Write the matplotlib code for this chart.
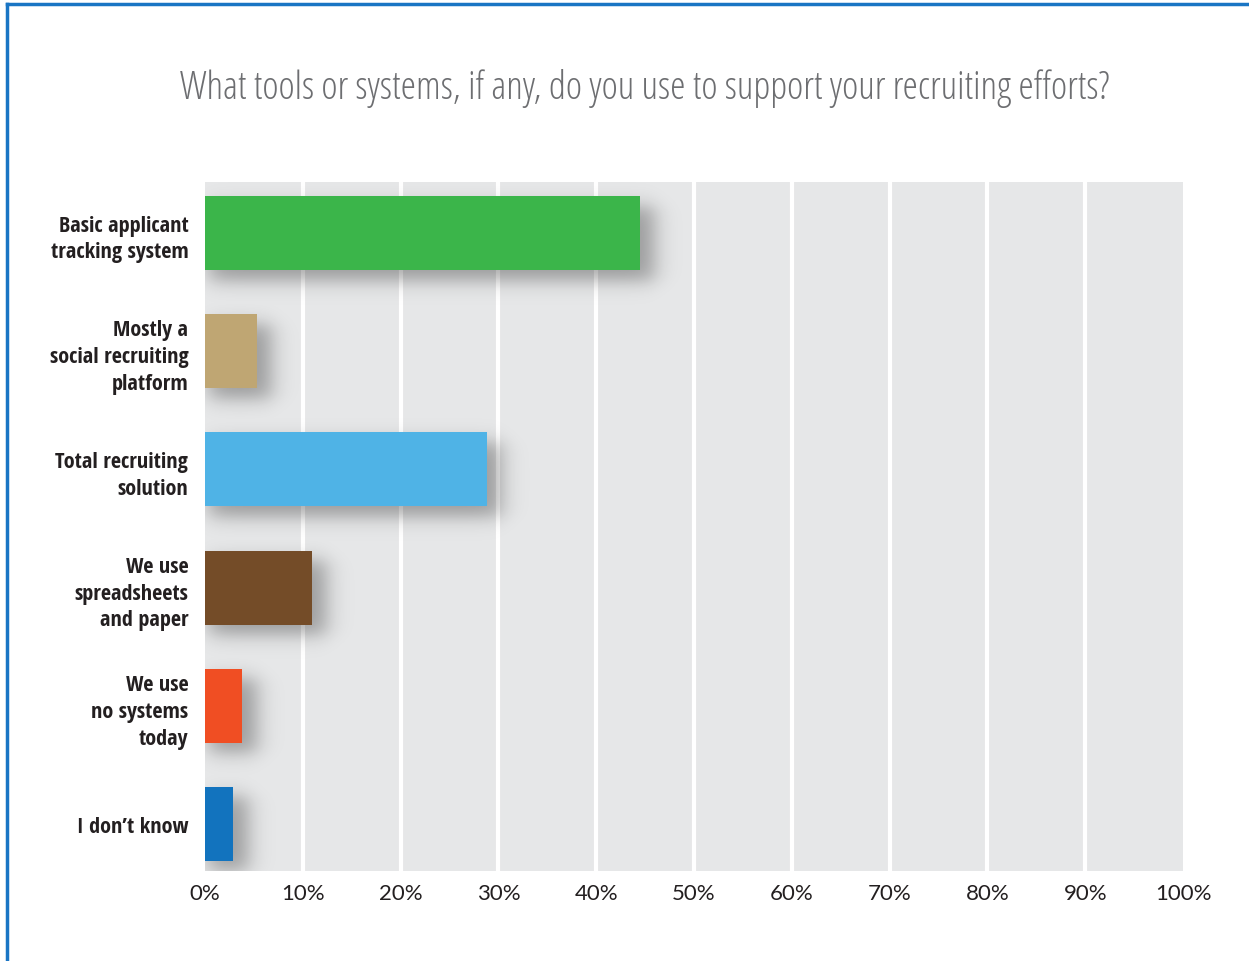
import numpy as np
import matplotlib.pyplot as plt
from matplotlib.lines import Line2D

labels = ["Basic applicant\ntracking system", "Mostly a\nsocial recruiting\nplatform",
          "Total recruiting\nsolution", "We use\nspreadsheets\nand paper",
          "We use\nno systems\ntoday", "I don\u2019t know"]
values = [44.5, 5.3, 28.8, 10.9, 3.8, 2.9]
colors = ["#3bb54a", "#bfa673", "#4fb3e6", "#744c28", "#f04e23", "#1273be"]
ticks = np.arange(0, 101, 10)
tick_labels = [f"{t}%" for t in ticks]

cond = ["Open Sans Condensed", "Open Sans", "DejaVu Sans"]

fig = plt.figure(figsize=(12.49, 9.62), dpi=100)
ax = fig.add_axes([205/1249, 90/962, 978/1249, 689/962])
ax.set_facecolor("#e6e7e8")

y = np.arange(len(values))
bh = 0.627
ylim = (5 + 0.398, -0.432)

# blurred drop shadow, built as an image under the bars
px_x = 100/978   # data units per pixel
px_y = 1/118
gx = np.linspace(0, 100, 978)
gy = np.linspace(ylim[1], ylim[0], 689)
X, Y = np.meshgrid(gx, gy)
shade = np.zeros_like(X)
sx, sy = 13*px_x, 11*px_y
for v, yy in zip(values, y):
    x0, x1 = 4*px_x, v + 14*px_x
    y0, y1 = yy - bh/2 + 10*px_y, yy + bh/2 + 10*px_y
    fx = 0.5*(np.tanh((X - x0)/sx) - np.tanh((X - x1)/sx))
    fy = 0.5*(np.tanh((Y - y0)/sy) - np.tanh((Y - y1)/sy))
    shade = np.maximum(shade, fx*fy)
rgba = np.zeros(X.shape + (4,))
rgba[..., 3] = shade*0.33
ax.imshow(rgba, extent=(0, 100, ylim[0], ylim[1]), origin="upper", aspect="auto",
          interpolation="bilinear", zorder=2)

ax.barh(y, values, height=bh, color=colors, zorder=3)

for t in ticks[1:-1]:
    ax.axvline(t, color="white", lw=3, zorder=1)

ax.set_xlim(0, 100)
ax.set_ylim(*ylim)
ax.set_xticks(ticks)
ax.set_xticklabels(tick_labels, fontsize=16, color="#231f20", family=["Lato", "DejaVu Sans"])
ax.set_yticks(y)
ax.set_yticklabels(labels, fontsize=16, fontweight="bold", fontstretch="condensed",
                   color="#231f20", family=cond, linespacing=1.37)
ax.tick_params(length=0, axis="both")
ax.tick_params(axis="y", pad=12)
ax.tick_params(axis="x", pad=9)
for s in ax.spines.values():
    s.set_visible(False)

fig.text(645/1249, 1 - 89/962, "What tools or systems, if any, do you use to support your recruiting efforts?",
         ha="center", va="center", fontsize=28, color="#6d6e71", family=["Open Sans", "DejaVu Sans"],
         fontstretch="condensed")

# blue frame on top and left
fig.add_artist(Line2D([7/1249, 7/1249], [0, 1 - 5/962], transform=fig.transFigure, color="#1a75c4", lw=2.5))
fig.add_artist(Line2D([7/1249, 1], [1 - 5/962, 1 - 5/962], transform=fig.transFigure, color="#1a75c4", lw=2.5))

fig.savefig("out.png", dpi=100)
